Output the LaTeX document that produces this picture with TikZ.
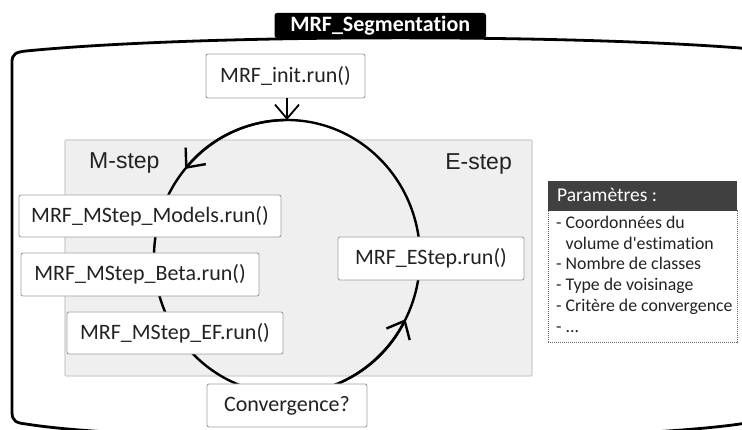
\documentclass[tikz,border=0pt]{standalone}
\usepackage{fontspec}
\setmainfont{Carlito}[Ligatures={NoCommon}]
\newfontfamily\arialfont{Liberation Sans}
\usetikzlibrary{arrows.meta}
\definecolor{grayfill}{HTML}{EFEFEF}
\definecolor{grayedge}{HTML}{CFCFCF}
\definecolor{boxedge}{HTML}{A0A0A0}
\definecolor{headfill}{HTML}{404040}
\definecolor{inktext}{HTML}{222222}
\begin{document}
\begin{tikzpicture}[x=1pt,y=-1pt,
  proc/.style={draw=boxedge, fill=white, line width=0.9pt, rounded corners=2pt, inner sep=0pt,
               font=\fontsize{22}{26}\selectfont, text=inktext},
  loopline/.style={line width=2.4pt, black},
  barb/.style={-{Straight Barb[length=15pt,width=26pt]}},
  steplabel/.style={font=\arialfont\fontsize{23}{27}\selectfont, inner sep=0pt, text=inktext},
  framestyle/.style={line width=2.8pt, black},
  regionbox/.style={draw=grayedge, fill=grayfill, line width=1.2pt, rounded corners=1pt, inner sep=0pt},
  paramtext/.style={font=\fontsize{17.8}{20.7}\selectfont, inner sep=0pt, text=inktext, align=left},
]
\useasboundingbox (0,0) rectangle (742,430);

% outer frame
\draw[framestyle] (12,200) -- (12,62) .. controls (12,54) and (16,52) .. (26,51)
  .. controls (200,34) and (560,34) .. (740,48)
  .. controls (748,49) and (752,52) .. (752,60) -- (752,412)
  .. controls (752,420) and (748,423) .. (740,424)
  .. controls (600,444) and (150,444) .. (26,424)
  .. controls (16,423) and (12,421) .. (12,412) -- cycle;

% title tab
\node[fill=black, minimum width=211.5pt, minimum height=25pt, inner sep=0pt,
      rounded corners=2.5pt, text=white, font=\bfseries\fontsize{22}{26}\selectfont]
  (title) at (380.25,25.5) {MRF\_Segmentation};

% grey region
\node[regionbox, minimum width=467pt, minimum height=236pt] (region) at (298.5,258) {};
\node[steplabel, anchor=base west] (mlabel) at (89,169) {M-step};
\node[steplabel, anchor=base east] (elabel) at (512,170) {E-step};

% loop
\coordinate (ctr) at (287,257);
\coordinate (ctop) at (287,120);
\draw[loopline] (ctr) ellipse [x radius=133, y radius=137];
\draw[loopline, barb] (ctr) ++(270:133 and 137) arc[start angle=270, end angle=220, x radius=133, y radius=137];
\draw[loopline, barb] (ctr) ++(90:133 and 137) arc[start angle=90, end angle=27, x radius=133, y radius=137];

% process boxes
\node[proc, minimum width=159pt, minimum height=44pt] (init) at (285.5,76) {MRF\_init.run()};
\node[proc, minimum width=262pt, minimum height=42pt] (models) at (150,216) {MRF\_MStep\_Models.run()};
\node[proc, minimum width=238pt, minimum height=43pt] (beta) at (140,274.5) {MRF\_MStep\_Beta.run()};
\node[proc, minimum width=216pt, minimum height=42pt] (ef) at (175,333) {MRF\_MStep\_EF.run()};
\node[proc, minimum width=160pt, minimum height=43pt] (conv) at (287,405.5) {Convergence?};
\node[proc, minimum width=186pt, minimum height=43pt] (estep) at (431,258.5) {MRF\_EStep.run()};

\draw[line width=1.8pt, -{Straight Barb[length=14pt,width=24pt]}] (init.south -| ctop) -- (ctop);

% parameters
\node[draw=headfill!80, densely dotted, line width=1pt, fill=white, minimum width=189pt,
      minimum height=132pt, inner sep=0pt] (pbody) at (642.5,277) {};
\node[fill=headfill, minimum width=189pt, minimum height=30pt, inner sep=0pt] (phead) at (642.5,196) {};
\node[anchor=base west, inner sep=0pt, text=white, font=\fontsize{19.5}{22}\selectfont] (ptitle) at (557,202) {Paramètres :};
\node[paramtext, anchor=north west] (plist) at (556,216)
  {- Coordonnées du\\\phantom{- }volume d\textquotesingle estimation\\- Nombre de classes\\- Type de voisinage\\- Critère de convergence\\- ...};
\end{tikzpicture}
\end{document}
